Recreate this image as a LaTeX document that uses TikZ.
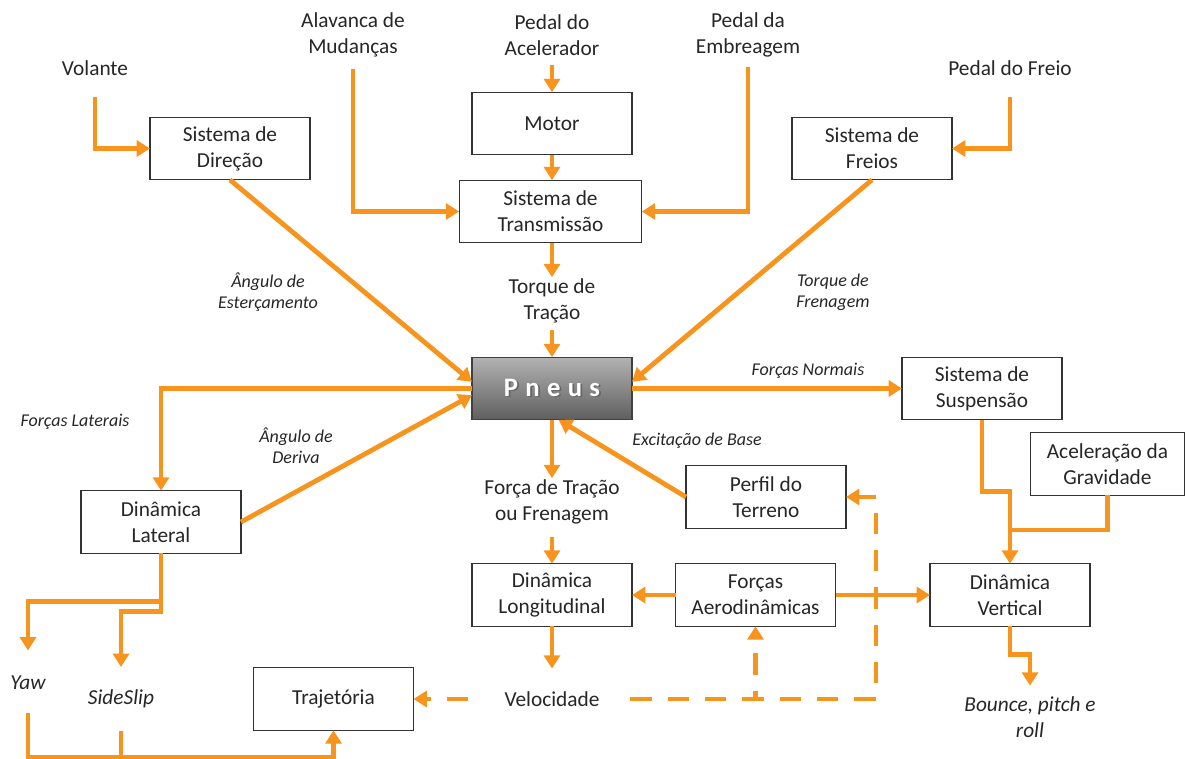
\documentclass[tikz,border=0pt]{standalone}
\usepackage{fontspec}
\setmainfont{Carlito}
\usepackage{tikz}
\usetikzlibrary{arrows.meta,positioning}
\definecolor{laranja}{RGB}{247,148,30}
\definecolor{texto}{RGB}{38,38,38}
\newcommand{\comsombra}[1]{\makebox[0pt][l]{\hspace{1.3pt}\raisebox{-1.3pt}{\color{black!60}#1}}{\color{white}#1}}

\begin{document}
\begin{tikzpicture}[x=0.75pt, y=-0.75pt,
		caixa/.style  = {draw=black!80, line width=0.8pt, rectangle, minimum width=120pt, minimum height=47pt, align=center, inner sep=2pt, outer sep=0pt},
		bloco/.style  = {caixa, fill=white, text=texto, font=\fontsize{16}{19.5}\selectfont},
		pneu/.style   = {caixa, draw=black!75, top color=black!30, bottom color=black!63, font=\fontsize{20}{24}\selectfont\bfseries},
		rotulo/.style = {text=texto, align=center, inner sep=1pt, font=\fontsize{16}{19.5}\selectfont},
		saida/.style  = {rotulo, font=\fontsize{16}{19.5}\selectfont\itshape},
		legenda/.style = {text=texto, align=center, inner sep=1pt, font=\fontsize{13.5}{16}\selectfont\itshape},
		linha/.style  = {draw=laranja, line width=3.6pt},
		seta/.style   = {linha, -{Triangle[width=12pt,length=10pt]}},
		tracejada/.style = {seta, dash pattern=on 16pt off 12pt}]
		
		\useasboundingbox (0,0) rectangle (1185,759);
		
		% entradas do motorista
		\node[rotulo] (volante) at (95,68) {Volante};
		\node[rotulo] (alavanca) at (353,35) {Alavanca de\\Mudanças};
		\node[rotulo] (acelerador) at (552,35) {Pedal do\\Acelerador};
		\node[rotulo] (embreagem) at (748,35) {Pedal da\\Embreagem};
		\node[rotulo] (freio) at (1010,68) {Pedal do Freio};
		
		% sistemas e dinamicas
		\node[bloco] (direcao) at (230,148.5) {Sistema de\\Direção};
		\node[bloco] (motor) at (552,123.5) {Motor};
		\node[bloco, minimum width=137pt] (transmissao) at (550.5,211.5) {Sistema de\\Transmissão};
		\node[bloco] (freios) at (872,148.5) {Sistema de\\Freios};
		\node[pneu] (pneus) at (552,388.5) {\comsombra{P\hspace{5.5pt}n\hspace{5.5pt}e\hspace{5.5pt}u\hspace{5.5pt}s}};
		\node[bloco] (suspensao) at (982,388.5) {Sistema de\\Suspensão};
		\node[bloco, minimum width=115pt] (gravidade) at (1107.5,464) {Aceleração da\\Gravidade};
		\node[bloco] (lateral) at (161,522) {Dinâmica\\Lateral};
		\node[bloco] (perfil) at (766,497) {Perfil do\\Terreno};
		\node[bloco] (longitudinal) at (552,595) {Dinâmica\\Longitudinal};
		\node[bloco] (aero) at (755.5,595) {Forças\\Aerodinâmicas};
		\node[bloco] (vertical) at (1010,595) {Dinâmica\\Vertical};
		\node[bloco] (trajetoria) at (333.5,699) {Trajetória};
		
		\node[rotulo] (torque) at (552,301) {Torque de\\Tração};
		\node[rotulo] (forca) at (552,502) {Força de Tração\\ou Frenagem};
		\node[rotulo] (velocidade) at (552,699) {Velocidade};
		\node[saida] (yaw) at (28,683) {Yaw};
		\node[saida] (sideslip) at (121,699) {SideSlip};
		\node[saida] (bounce) at (1030,717) {Bounce, pitch e\\roll};
		
		\node[legenda] (esterc) at (268,292) {Ângulo de\\Esterçamento};
		\node[legenda] (frenagem) at (833,292) {Torque de\\Frenagem};
		\node[legenda] (laterais) at (75,422) {Forças Laterais};
		\node[legenda] (deriva) at (296,446) {Ângulo de\\Deriva};
		\node[legenda] (normais) at (808,371) {Forças Normais};
		\node[legenda] (excitacao) at (697,441) {Excitação de Base};
		
		\coordinate (juncao) at (1010,530);
		\coordinate (canto) at (876,699);
		\coordinate (base) at (0,757);
		
		\draw[seta, shorten <=15pt] (volante.south) |- (direcao.west);
		\draw[seta, shorten <=7.5pt] (alavanca.south) |- (transmissao.west);
		\draw[seta, shorten <=6pt] (acelerador.south) -- (motor.north);
		\draw[seta] (motor.south) -- (motor.south |- transmissao.north);
		\draw[seta, shorten <=6pt] (embreagem.south) |- (transmissao.east);
		\draw[seta, shorten <=15pt] (freio.south) |- (freios.east);
		\draw[seta] (transmissao.south -| torque) -- (torque.north);
		\draw[seta, shorten <=4pt] (torque.south) -- (pneus.north);
		
		\draw[seta] (direcao.south) -- ([yshift=5pt]pneus.west);
		\draw[seta] (freios.south) -- ([yshift=5pt]pneus.east);
		\draw[seta] (pneus.west) -| (lateral.north);
		\draw[seta] (lateral.east) -- ([yshift=-5pt]pneus.west);
		\draw[seta] (pneus.east) -- (suspensao.west);
		\draw[seta] (suspensao.south) -- ++(0,72) -| (vertical.north);
		\draw[linha] (gravidade.south) |- (juncao);
		\draw[seta, shorten >=7pt] (vertical.south) -- ++(0,28) -| (bounce.north);
		
		\draw[seta] (pneus.south) -- (forca.north);
		\draw[seta, shorten <=8pt] (forca.south) -- (longitudinal.north);
		\draw[seta] (perfil.west) -- ([xshift=5pt]pneus.south);
		\draw[seta] (aero.west) -- (longitudinal.east);
		\draw[seta] (aero.east) -- (vertical.west);
		\draw[seta, shorten >=16pt] (longitudinal.south) -- (velocidade.north);
		
		\draw[tracejada, shorten <=26pt] (velocidade.west) -- (trajetoria.east);
		\draw[tracejada, shorten <=22pt] (velocidade.east) -| (aero.south);
		\draw[tracejada, shorten <=22pt] (velocidade.east) -- (canto) |- (perfil.east);
		
		\draw[seta, shorten >=18pt] (lateral.south) -- ++(0,48) -| (yaw.north);
		\draw[seta, shorten >=16pt] (lateral.south) -- ++(0,58) -| (sideslip.north);
		\draw[seta, shorten <=16pt] (yaw.south) -- (yaw.south |- base) -| (trajetoria.south);
		\draw[linha, shorten <=16pt] (sideslip.south) -- (sideslip.south |- base);
		
	\end{tikzpicture}
\end{document}
